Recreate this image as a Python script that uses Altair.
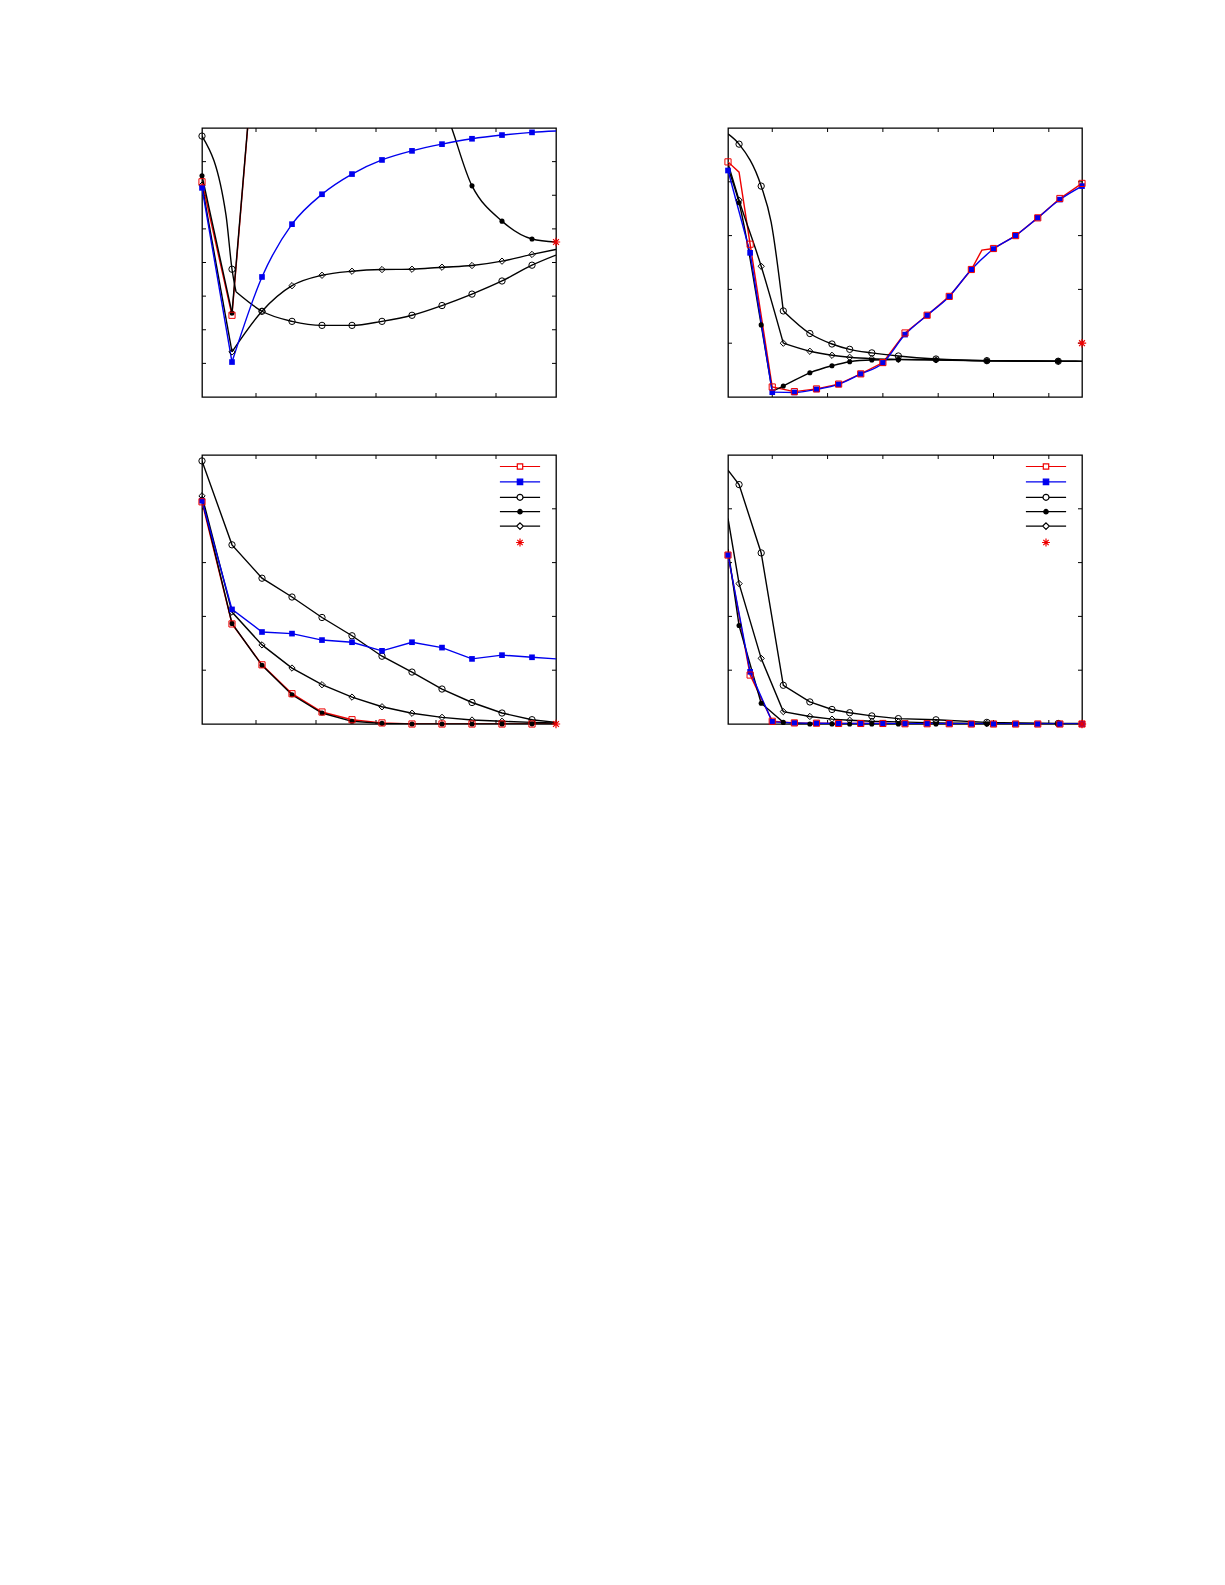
import altair as alt
import pandas as pd

# ---------------- values ----------------
# Panel A (top left)
A_X = [0.1, 0.6, 1.1, 1.6, 2.1, 2.6, 3.1, 3.6, 4.1, 4.6, 5.1, 5.6, 6.0]
A_BLUE = [6.22, 1.04, 3.57, 5.14, 6.03, 6.63, 7.05, 7.32, 7.52, 7.68, 7.79, 7.87, 7.91]
A_RED_X = [0.1, 0.6, 1.1]
A_RED = [6.40, 2.43, 13.1]
A_CIRC_X = [0.1, 0.5, 0.6, 0.667, 1.1, 1.6, 2.1, 2.6, 3.1, 3.6, 4.1, 4.6, 5.1, 5.6, 6.0]
A_CIRC = [7.76, 5.41, 3.80, 3.13, 2.55, 2.25, 2.13, 2.13, 2.25, 2.43, 2.72, 3.06, 3.45,
          3.92, 4.22]
A_DIAM = [6.30, 1.34, 2.55, 3.31, 3.62, 3.74, 3.79, 3.80, 3.86, 3.91, 4.04, 4.24, 4.39]
A_DOT_X = [0.1, 0.6, 1.1, 4.1, 4.6, 5.1, 5.6, 6.0]
A_DOT = [6.58, 2.50, 13.1, 8.7, 6.28, 5.23, 4.70, 4.61]
A_STAR = [6.0, 4.61]
A_XTICKS = [1, 2, 3, 4, 5]
A_YTICKS = [1, 2, 3, 4, 5, 6, 7]

# Panel B (top right)
B_X = [0.2, 0.6, 1.0, 1.4, 1.8, 2.2, 2.6, 3.0, 3.4, 3.8, 4.2, 4.6, 5.0, 5.4, 5.8, 6.2, 6.6]
B_BLUE = [4.21, 2.68, 0.09, 0.085, 0.143, 0.236, 0.428, 0.632, 1.16, 1.52, 1.87, 2.37,
          2.75, 3.00, 3.33, 3.67, 3.92]
B_RED_X = [0.2, 0.4, 0.6, 1.0, 1.4, 1.8, 2.2, 2.6, 3.0, 3.4, 3.8, 4.2, 4.6, 4.79, 5.0,
           5.4, 5.8, 6.2, 6.6]
B_RED = [4.37, 4.18, 2.84, 0.186, 0.10, 0.15, 0.24, 0.43, 0.64, 1.19, 1.52, 1.87, 2.37,
         2.73, 2.76, 3.00, 3.33, 3.69, 3.97]
B_BLK_X = [0.2, 0.4, 0.8, 1.2, 1.68, 2.08, 2.4, 2.8, 3.28, 3.96, 4.88, 6.17, 6.6]
B_CIRC_X = [0.2, 0.4, 0.8, 0.98, 1.2, 1.68, 2.08, 2.4, 2.8, 3.28, 3.96, 4.88, 6.17, 6.6]
B_CIRC = [4.89, 4.70, 3.92, 3.25, 1.60, 1.18, 0.985, 0.886, 0.82, 0.762, 0.706, 0.675,
          0.665, 0.663]
B_DIAM = [4.34, 3.66, 2.43, 1.00, 0.85, 0.775, 0.738, 0.712, 0.70, 0.69, 0.675, 0.665, 0.663]
B_DOT_X = [0.2, 0.4, 0.8, 1.0, 1.2, 1.68, 2.08, 2.4, 2.8, 3.28, 3.96, 4.88, 6.17, 6.6]
B_DOT = [4.25, 3.61, 1.34, 0.11, 0.204, 0.45, 0.58, 0.656, 0.687, 0.694, 0.687, 0.675,
         0.663, 0.662]
B_STAR = [6.6, 1.0]
B_XTICKS = [1, 2, 3, 4, 5, 6]
B_YTICKS = [1, 2, 3, 4]

# Panel C (bottom left)
C_X = [0.1, 0.6, 1.1, 1.6, 2.1, 2.6, 3.1, 3.6, 4.1, 4.6, 5.1, 5.6, 6.0]
C_RED = [4.13, 1.86, 1.10, 0.563, 0.223, 0.08, 0.02, 0.0, 0.0, 0.0, 0.0, 0.0, 0.0]
C_BLUE = [4.15, 2.13, 1.71, 1.68, 1.56, 1.52, 1.36, 1.52, 1.42, 1.21, 1.28, 1.24, 1.21]
C_CIRC = [4.89, 3.33, 2.71, 2.36, 1.98, 1.64, 1.26, 0.965, 0.65, 0.40, 0.204, 0.08, 0.03]
C_DOT = [4.18, 1.87, 1.09, 0.544, 0.204, 0.05, 0.012, 0.0, 0.0, 0.0, 0.0, 0.003, 0.0]
C_DIAM = [4.24, 2.08, 1.47, 1.04, 0.73, 0.50, 0.32, 0.20, 0.124, 0.074, 0.05, 0.03, 0.02]
C_STAR = [6.0, 0.0]
C_XTICKS = [1, 2, 3, 4, 5]
C_YTICKS = [1, 2, 3, 4]

# Panel D (bottom right)
D_X = [0.2, 0.6, 1.0, 1.4, 1.8, 2.2, 2.6, 3.0, 3.4, 3.8, 4.2, 4.6, 5.0, 5.4, 5.8, 6.2, 6.6]
D_BLUE = [3.14, 0.97, 0.04, 0.02, 0.015, 0.01, 0.01, 0.01, 0.005, 0.005, 0.005, 0.0, 0.0,
          0.0, 0.0, 0.0, 0.0]
D_RED = [3.14, 0.91, 0.05, 0.02, 0.015, 0.01, 0.01, 0.01, 0.005, 0.005, 0.005, 0.0, 0.0,
         0.0, 0.0, 0.0, 0.0]
D_BLK_X = [0.2, 0.4, 0.8, 1.2, 1.68, 2.08, 2.4, 2.8, 3.28, 3.96, 4.88, 6.17, 6.6]
D_CIRC = [4.72, 4.45, 3.18, 0.72, 0.41, 0.27, 0.21, 0.15, 0.10, 0.078, 0.03, 0.01, 0.01]
D_DIAM = [3.82, 2.61, 1.22, 0.23, 0.14, 0.09, 0.07, 0.05, 0.04, 0.02, 0.01, 0.005, 0.0]
D_DOT = [3.25, 1.83, 0.386, 0.03, 0.0, 0.0, 0.0, 0.0, 0.0, 0.0, 0.0, 0.0, 0.0]
D_STAR = [6.6, 0.0]
D_XTICKS = [1, 2, 3, 4, 5, 6]
D_YTICKS = [1, 2, 3, 4]

SERIES = ["red", "blue", "circle", "dot", "diamond", "star"]

# ---------------- styles ----------------
RED = "#ee0000"
BLUE = "#0000ee"
STYLE = {
    "red": dict(color=RED, shape="square", filled=False, size=38),
    "blue": dict(color=BLUE, shape="square", filled=True, size=32),
    "circle": dict(color="black", shape="circle", filled=False, size=40),
    "dot": dict(color="black", shape="circle", filled=True, size=26),
    "diamond": dict(color="black", shape="diamond", filled=False, size=40),
}
ASTER = "M-1,0L1,0M0,-1L0,1M-0.7,-0.7L0.7,0.7M-0.7,0.7L0.7,-0.7"

# legend symbols: line + marker in one path (unit = sqrt(symbolSize)/2 px)
LEG_PATHS = [
    "M-6.7,0H-0.9M0.9,0H6.7M-0.9,-0.9H0.9V0.9H-0.9Z",
    "M-6.7,0H6.7M-0.9,-0.9H0.9V0.9H-0.9Z",
    "M-6.7,0H-1M1,0H6.7M-1,0A1,1,0,1,0,1,0A1,1,0,1,0,-1,0Z",
    "M-6.7,0H6.7M-0.75,0A0.75,0.75,0,1,0,0.75,0A0.75,0.75,0,1,0,-0.75,0Z",
    "M-6.7,0H-1.1M1.1,0H6.7M0,-1.1L1.1,0L0,1.1L-1.1,0Z",
    "M-1.3,0L1.3,0M0,-1.3L0,1.3M-0.9,-0.9L0.9,0.9M-0.9,0.9L0.9,-0.9",
]
LEG_STROKE = [RED, BLUE, "black", "black", "black", RED]
LEG_FILL = ["transparent", BLUE, "transparent", "black", "transparent", "transparent"]

W, H = 354, 269
TICK = 4
LINE_ORDER = ["red", "circle", "dot", "diamond", "blue"]
POINT_ORDER = ["diamond", "circle", "dot", "blue", "red"]


def panel(xdom, ydom, xticks, yticks, series, star, legend):
    rows = []
    for name, xs, ys, nomark, kinks, interp in series:
        n = len(xs)
        b = [0] + sorted(kinks) + [n - 1]
        for s in range(len(b) - 1):
            for i in range(b[s], b[s + 1] + 1):
                rows.append(dict(series=name, x=xs[i], y=ys[i], seg=f"{name}{s}",
                                 marked=xs[i] not in nomark))
    df = pd.DataFrame(rows)
    pts = df[df["marked"]].drop_duplicates(["series", "x"])
    interp_of = {s[0]: s[5] for s in series}

    xsc = alt.Scale(domain=xdom, nice=False, zero=False)
    ysc = alt.Scale(domain=ydom, nice=False, zero=False)
    X = alt.X("x:Q", scale=xsc, axis=None)
    Y = alt.Y("y:Q", scale=ysc, axis=None)

    layers = []
    xt = pd.DataFrame({"t": xticks})
    yt = pd.DataFrame({"t": yticks})
    TX = alt.X("t:Q", scale=xsc, axis=None)
    TY = alt.Y("t:Q", scale=ysc, axis=None)
    rule = dict(color="black", strokeWidth=1)
    layers.append(alt.Chart(xt).mark_rule(**rule).encode(x=TX, y=alt.value(0), y2=alt.value(TICK)))
    layers.append(alt.Chart(xt).mark_rule(**rule).encode(x=TX, y=alt.value(H), y2=alt.value(H - TICK)))
    layers.append(alt.Chart(yt).mark_rule(**rule).encode(y=TY, x=alt.value(0), x2=alt.value(TICK)))
    layers.append(alt.Chart(yt).mark_rule(**rule).encode(y=TY, x=alt.value(W), x2=alt.value(W - TICK)))

    for name in LINE_ORDER:
        if name not in interp_of:
            continue
        layers.append(
            alt.Chart(df).transform_filter(alt.datum.series == name)
            .mark_line(color=STYLE[name]["color"], strokeWidth=1.4,
                       interpolate=interp_of[name], clip=True)
            .encode(x=X, y=Y, detail="seg:N")
        )
    for name in POINT_ORDER:
        if name not in interp_of:
            continue
        st = STYLE[name]
        layers.append(
            alt.Chart(pts).transform_filter(alt.datum.series == name)
            .mark_point(shape=st["shape"], filled=st["filled"], color=st["color"],
                        size=st["size"], strokeWidth=1, opacity=1)
            .encode(x=X, y=Y)
        )
    sdf = pd.DataFrame({"x": [star[0]], "y": [star[1]]})
    layers.append(
        alt.Chart(sdf).mark_point(shape=ASTER, filled=False, color=RED, size=70,
                                  strokeWidth=1.2, opacity=1).encode(x=X, y=Y)
    )
    if legend:
        leg = alt.Legend(orient="none", legendX=314, legendY=7.5, title=None,
                         labelExpr="''", symbolSize=36, symbolStrokeWidth=1.2,
                         rowPadding=3.4, padding=0, labelFontSize=1, labelOffset=0)
        ldf = pd.DataFrame({"series": SERIES})
        layers.append(
            alt.Chart(ldf).transform_filter("false")
            .mark_point(filled=False, opacity=1)
            .encode(
                shape=alt.Shape("series:N", scale=alt.Scale(domain=SERIES, range=LEG_PATHS), legend=leg),
                stroke=alt.Stroke("series:N", scale=alt.Scale(domain=SERIES, range=LEG_STROKE), legend=leg),
                fill=alt.Fill("series:N", scale=alt.Scale(domain=SERIES, range=LEG_FILL), legend=leg),
            )
        )
    return alt.layer(*layers).properties(width=W, height=H)


pA = panel([0.1, 6.0], [0, 8], A_XTICKS, A_YTICKS, [
    ("red", A_RED_X, A_RED, [1.1], [], "linear"),
    ("circle", A_CIRC_X, A_CIRC, [0.5, 0.667, 6.0], [3], "monotone"),
    ("diamond", A_X, A_DIAM, [6.0], [1], "monotone"),
    ("dot", A_DOT_X, A_DOT, [1.1, 4.1, 6.0], [1, 2], "monotone"),
    ("blue", A_X, A_BLUE, [6.0], [1], "monotone"),
], A_STAR, False)

pB = panel([0.2, 6.6], [0, 5], B_XTICKS, B_YTICKS, [
    ("red", B_RED_X, B_RED, [0.4, 4.79], [], "linear"),
    ("circle", B_CIRC_X, B_CIRC, [0.2, 0.98, 6.6], [4], "monotone"),
    ("diamond", B_BLK_X, B_DIAM, [0.2, 6.6], [3], "monotone"),
    ("dot", B_DOT_X, B_DOT, [0.2, 1.0, 6.6], [3], "monotone"),
    ("blue", B_X, B_BLUE, [], [1, 2], "monotone"),
], B_STAR, False)

pC = panel([0.1, 6.0], [0, 5], C_XTICKS, C_YTICKS, [
    ("red", C_X, C_RED, [6.0], [], "linear"),
    ("circle", C_X, C_CIRC, [6.0], [], "linear"),
    ("diamond", C_X, C_DIAM, [6.0], [], "linear"),
    ("dot", C_X, C_DOT, [6.0], [], "linear"),
    ("blue", C_X, C_BLUE, [6.0], [], "linear"),
], C_STAR, True)

pD = panel([0.2, 6.6], [0, 5], D_XTICKS, D_YTICKS, [
    ("red", D_X, D_RED, [], [], "linear"),
    ("circle", D_BLK_X, D_CIRC, [0.2, 6.6], [], "linear"),
    ("diamond", D_BLK_X, D_DIAM, [0.2, 6.6], [], "linear"),
    ("dot", D_BLK_X, D_DOT, [0.2, 6.6], [], "linear"),
    ("blue", D_X, D_BLUE, [], [], "linear"),
], D_STAR, True)

IND = dict(shape="independent", stroke="independent", fill="independent")

chart = (
    alt.concat(pA, pB, pC, pD, columns=2, spacing={"row": 58, "column": 172}, bounds="flush")
    .resolve_scale(**IND).resolve_legend(**IND)
    .properties(padding={"left": 188, "top": 118, "right": 5, "bottom": 5},
                background="white")
    .configure_view(stroke="black", strokeWidth=1.3)
)

chart.save("out.html", embed_options={"renderer": "svg", "actions": False})
